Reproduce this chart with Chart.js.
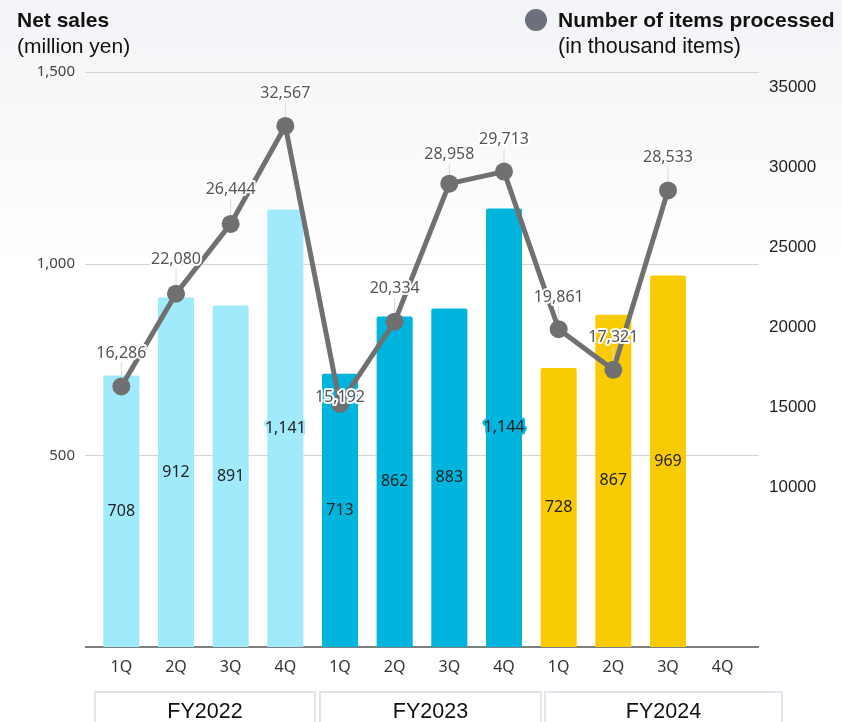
<!DOCTYPE html>
<html>
<head>
<meta charset="utf-8">
<script src="https://cdn.jsdelivr.net/npm/chart.js@4/dist/chart.umd.min.js"></script>
<style>
  html, body { margin: 0; padding: 0; }
  body {
    width: 842px; height: 722px; overflow: hidden;
    background: linear-gradient(to bottom, #f3f4f7 0px, #fbfbfc 180px, #ffffff 270px);
  }
  #c { display: block; }
</style>
</head>
<body>
<canvas id="c" width="842" height="722"></canvas>
<script>
// Quarterly net sales (bars, left axis) and items processed (line, right axis)
const quarters = ['1Q', '2Q', '3Q', '4Q', '1Q', '2Q', '3Q', '4Q', '1Q', '2Q', '3Q', '4Q'];
const fiscalYears = ['FY2022', 'FY2023', 'FY2024'];
const netSales = [708, 912, 891, 1141, 713, 862, 883, 1144, 728, 867, 969, null];
const itemsProcessed = [16286, 22080, 26444, 32567, 15192, 20334, 28958, 29713, 19861, 17321, 28533, null];
const salesTicks = [500, 1000, 1500];
const itemTicks = [10000, 15000, 20000, 25000, 30000, 35000];

const yearColors = ['#a0eafc', '#00b5dd', '#f9cb05'];
const barColors = quarters.map((q, i) => yearColors[Math.floor(i / 4)]);
const LINE_COLOR = '#707070';

// Horizontal rules and the baseline, running slightly past the plot area
const gridPlugin = {
  id: 'gridRules',
  beforeDatasetsDraw(chart) {
    const { ctx, chartArea, scales } = chart;
    const l = chartArea.left - 9, r = chartArea.right + 9;
    ctx.save();
    ctx.strokeStyle = '#d4d4d6';
    ctx.lineWidth = 1;
    scales.y.ticks.forEach(t => {
      const y = Math.round(scales.y.getPixelForValue(t.value)) + 0.5;
      ctx.beginPath(); ctx.moveTo(l, y); ctx.lineTo(r, y); ctx.stroke();
    });
    ctx.strokeStyle = '#555';
    ctx.lineWidth = 1.5;
    const yb = scales.y.getPixelForValue(0);
    ctx.beginPath(); ctx.moveTo(l, yb); ctx.lineTo(r, yb); ctx.stroke();
    ctx.restore();
  }
};

// Value labels on bars and above line points
const valueLabels = {
  id: 'valueLabels',
  afterDatasetsDraw(chart, args, opts) {
    const { ctx } = chart;
    ctx.save();
    ctx.textAlign = 'center';
    ctx.textBaseline = 'middle';
    ctx.lineJoin = 'round';
    ctx.font = '16px "Noto Sans"';

    const barMeta = chart.getDatasetMeta(1);
    barMeta.data.forEach((bar, i) => {
      const v = netSales[i];
      if (v == null) return;
      const y = (bar.y + bar.base) / 2;
      const txt = v.toLocaleString('en-US');
      ctx.strokeStyle = barColors[i];
      ctx.lineWidth = 5;
      ctx.strokeText(txt, bar.x, y);
      ctx.fillStyle = '#222';
      ctx.fillText(txt, bar.x, y);
    });

    const lineMeta = chart.getDatasetMeta(0);
    lineMeta.data.forEach((pt, i) => {
      const v = itemsProcessed[i];
      if (v == null) return;
      const off = (opts.offsets && opts.offsets[i] != null) ? opts.offsets[i] : 33;
      const y = pt.y - off;
      if (off > 20) {
        ctx.strokeStyle = '#d9d9d9';
        ctx.lineWidth = 1;
        ctx.beginPath();
        ctx.moveTo(pt.x, y + 9);
        ctx.lineTo(pt.x, pt.y - 9);
        ctx.stroke();
      }
      const txt = v.toLocaleString('en-US');
      ctx.strokeStyle = 'rgba(255,255,255,0.95)';
      ctx.lineWidth = 4;
      ctx.strokeText(txt, pt.x, y);
      ctx.fillStyle = '#555';
      ctx.fillText(txt, pt.x, y);
    });
    ctx.restore();
  }
};

// Axis titles, series key and fiscal-year boxes
const decorations = {
  id: 'decorations',
  afterDraw(chart) {
    const { ctx } = chart;
    ctx.save();
    ctx.textBaseline = 'alphabetic';
    ctx.textAlign = 'left';
    ctx.fillStyle = '#111';
    ctx.font = 'bold 21px "Liberation Sans", Arial, sans-serif';
    ctx.fillText('Net sales', 17, 27);
    ctx.font = '21px "Liberation Sans", Arial, sans-serif';
    ctx.fillText('(million yen)', 17, 53);

    ctx.fillStyle = '#6c707c';
    ctx.beginPath(); ctx.arc(536, 20, 11, 0, Math.PI * 2); ctx.fill();
    ctx.fillStyle = '#111';
    ctx.font = 'bold 21px "Liberation Sans", Arial, sans-serif';
    ctx.fillText('Number of items processed', 558, 27);
    ctx.font = '21.5px "Liberation Sans", Arial, sans-serif';
    ctx.fillText('(in thousand items)', 558, 53);

    const boxes = [[95, 315], [320, 541], [545, 782]];
    ctx.font = '21.5px "Liberation Sans", Arial, sans-serif';
    ctx.textAlign = 'center';
    ctx.textBaseline = 'middle';
    boxes.forEach(([x0, x1], i) => {
      ctx.fillStyle = '#ffffff';
      ctx.fillRect(x0, 692, x1 - x0, 40);
      ctx.strokeStyle = '#e4e4ec';
      ctx.lineWidth = 2;
      ctx.strokeRect(x0, 692, x1 - x0, 40);
      ctx.fillStyle = '#111';
      ctx.fillText(fiscalYears[i], (x0 + x1) / 2, 712);
    });
    ctx.restore();
  }
};

new Chart(document.getElementById('c'), {
  data: {
    labels: quarters,
    datasets: [
      {
        type: 'line',
        label: 'Number of items processed',
        data: itemsProcessed,
        yAxisID: 'y1',
        order: 0,
        borderColor: LINE_COLOR,
        borderWidth: 5,
        pointRadius: 9,
        pointBackgroundColor: LINE_COLOR,
        pointBorderWidth: 0,
        tension: 0
      },
      {
        type: 'bar',
        label: 'Net sales',
        data: netSales,
        yAxisID: 'y',
        order: 1,
        backgroundColor: barColors,
        barPercentage: 0.66,
        categoryPercentage: 1,
        borderRadius: 2
      }
    ]
  },
  options: {
    responsive: false,
    animation: false,
    devicePixelRatio: 1,
    layout: { padding: { top: 72, left: 0, right: 0, bottom: 0 } },
    plugins: {
      legend: { display: false },
      tooltip: { enabled: false },
      valueLabels: { offsets: [33, 34, 34, 32, 6, 33, 29, 32, 32, 32, 33] }
    },
    scales: {
      x: {
        grid: { display: false, drawTicks: false },
        border: { display: false },
        ticks: { padding: 11, color: '#333', font: { family: 'Noto Sans', size: 16 } },
        afterFit(s) { s.height = 75; }
      },
      y: {
        position: 'left',
        min: 0, max: 1500,
        afterBuildTicks(s) { s.ticks = salesTicks.map(v => ({ value: v })); },
        ticks: {
          padding: 19, color: '#444',
          font: { family: 'Noto Sans', size: 15 },
          callback: v => v.toLocaleString('en-US')
        },
        grid: { display: false, drawTicks: false },
        border: { display: false },
        afterFit(s) { s.width = 94; }
      },
      y1: {
        position: 'right',
        min: 0, max: 35937.5,
        afterBuildTicks(s) { s.ticks = itemTicks.map(v => ({ value: v })); },
        ticks: {
          padding: 19, color: '#222',
          font: { family: 'Liberation Sans', size: 17 },
          callback: v => String(v)
        },
        grid: { display: false, drawTicks: false },
        border: { display: false },
        afterFit(s) { s.width = 92; }
      }
    }
  },
  plugins: [gridPlugin, valueLabels, decorations]
});
</script>
</body>
</html>
